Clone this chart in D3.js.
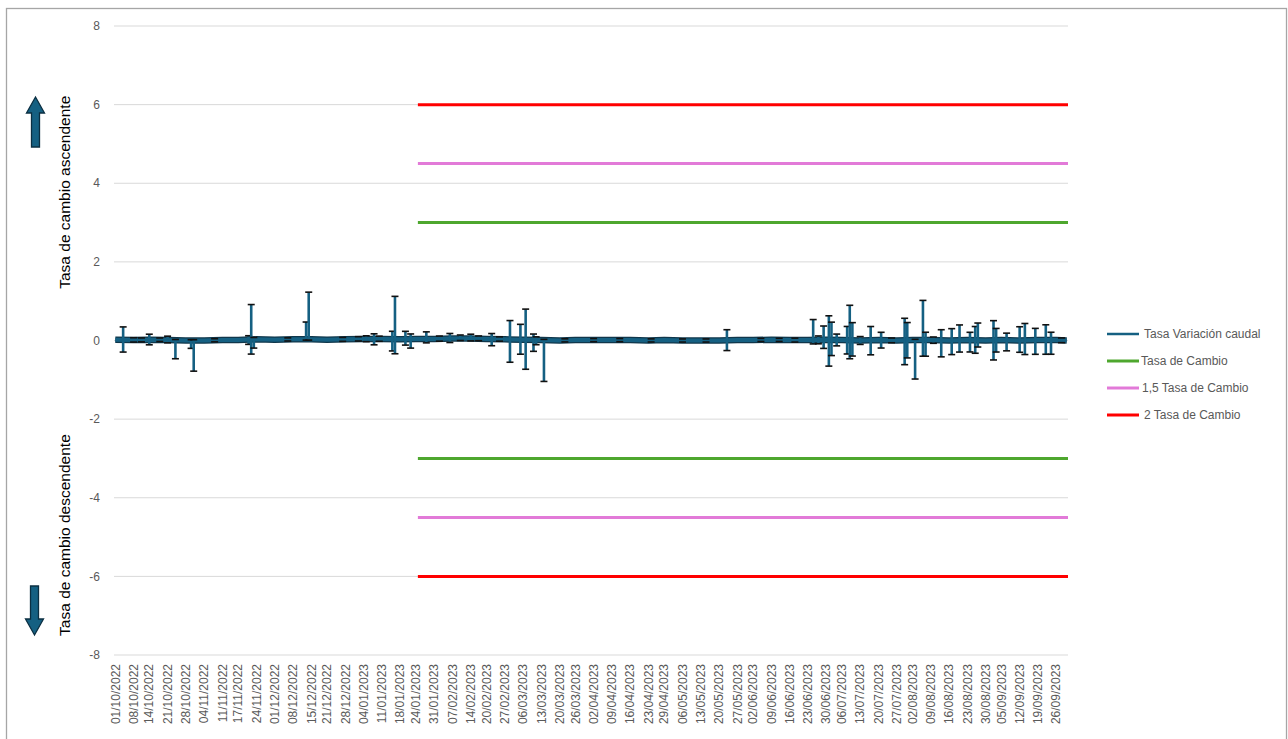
<!DOCTYPE html>
<html>
<head>
<meta charset="utf-8">
<script src="https://cdn.jsdelivr.net/npm/d3@7"></script>
<style>
  html, body { margin: 0; padding: 0; background: #fff; }
  svg { display: block; font-family: "Liberation Sans", Arial, sans-serif; }
</style>
</head>
<body>
<svg id="chart" width="1288" height="739"></svg>
<script>
// ---------------- DATA ----------------
const tickLabels = [
  "01/10/2022","08/10/2022","14/10/2022","21/10/2022","28/10/2022","04/11/2022","11/11/2022","17/11/2022",
  "24/11/2022","01/12/2022","08/12/2022","15/12/2022","21/12/2022","28/12/2022","04/01/2023","11/01/2023",
  "18/01/2023","24/01/2023","31/01/2023","07/02/2023","14/02/2023","20/02/2023","27/02/2023","06/03/2023",
  "13/03/2023","20/03/2023","26/03/2023","02/04/2023","09/04/2023","16/04/2023","23/04/2023","29/04/2023",
  "06/05/2023","13/05/2023","20/05/2023","27/05/2023","02/06/2023","09/06/2023","16/06/2023","23/06/2023",
  "30/06/2023","06/07/2023","13/07/2023","20/07/2023","27/07/2023","02/08/2023","09/08/2023","16/08/2023",
  "23/08/2023","30/08/2023","05/09/2023","12/09/2023","19/09/2023","26/09/2023"
];
const dateStart = "01/10/2022";
const dateEnd = "30/09/2023";
const yTicks = [-8, -6, -4, -2, 0, 2, 4, 6, 8];

// baseline of "Tasa Variación caudal"
const flowDates = [
  "01/10/2022","08/10/2022","14/10/2022","21/10/2022","28/10/2022","04/11/2022","11/11/2022","17/11/2022",
  "24/11/2022","01/12/2022","08/12/2022","15/12/2022","21/12/2022","28/12/2022","04/01/2023","11/01/2023",
  "18/01/2023","24/01/2023","31/01/2023","07/02/2023","14/02/2023","20/02/2023","27/02/2023","06/03/2023",
  "13/03/2023","20/03/2023","26/03/2023","02/04/2023","09/04/2023","16/04/2023","23/04/2023","29/04/2023",
  "06/05/2023","13/05/2023","20/05/2023","27/05/2023","02/06/2023","09/06/2023","16/06/2023","23/06/2023",
  "30/06/2023","06/07/2023","13/07/2023","20/07/2023","27/07/2023","02/08/2023","09/08/2023","16/08/2023",
  "23/08/2023","30/08/2023","05/09/2023","12/09/2023","19/09/2023","26/09/2023","30/09/2023"
];
const flowValues = [
  0.02, 0.01, 0.02, 0.01, 0.00, 0.00, 0.01, 0.01,
  0.03, 0.02, 0.03, 0.03, 0.02, 0.03, 0.04, 0.04,
  0.03, 0.04, 0.04, 0.05, 0.05, 0.04, 0.03, 0.02,
  0.01, 0.00, 0.01, 0.01, 0.01, 0.01, 0.00, 0.01,
  0.00, 0.00, 0.00, 0.01, 0.01, 0.02, 0.01, 0.01,
  0.02, 0.01, 0.00, 0.01, 0.00, 0.01, 0.01, 0.00,
  0.01, 0.00, 0.01, 0.00, 0.01, 0.01, 0.00
];

// error bars of "Tasa Variación caudal"
const errDates = [
  "04/10/2022","08/10/2022","11/10/2022","14/10/2022","18/10/2022","21/10/2022","24/10/2022","30/10/2022","31/10/2022",
  "08/11/2022","21/11/2022","22/11/2022","23/11/2022","06/12/2022","13/12/2022","14/12/2022","27/12/2022",
  "02/01/2023","05/01/2023","08/01/2023","10/01/2023","15/01/2023","16/01/2023","20/01/2023","22/01/2023",
  "28/01/2023","02/02/2023","06/02/2023","10/02/2023","14/02/2023","17/02/2023","22/02/2023","25/02/2023",
  "01/03/2023","05/03/2023","07/03/2023","10/03/2023","11/03/2023","14/03/2023","22/03/2023","02/04/2023",
  "12/04/2023","24/04/2023","06/05/2023","15/05/2023","23/05/2023","05/06/2023","12/06/2023","18/06/2023",
  "25/06/2023","27/06/2023","29/06/2023","01/07/2023","02/07/2023","04/07/2023","08/07/2023","09/07/2023",
  "10/07/2023","13/07/2023","17/07/2023","21/07/2023","25/07/2023","30/07/2023","31/07/2023","03/08/2023",
  "06/08/2023","07/08/2023","10/08/2023","13/08/2023","17/08/2023","20/08/2023","24/08/2023","26/08/2023",
  "27/08/2023","02/09/2023","03/09/2023","07/09/2023","12/09/2023","14/09/2023","18/09/2023","22/09/2023",
  "24/09/2023","28/09/2023"
];
const errUp = [
  0.33, 0.06, 0.05, 0.14, 0.05, 0.10, 0.02, 0.02, 0.02,
  0.04, 0.10, 0.89, 0.05, 0.04, 0.44, 1.20, 0.05,
  0.06, 0.08, 0.13, 0.07, 0.20, 1.09, 0.20, 0.13,
  0.18, 0.07, 0.13, 0.09, 0.11, 0.07, 0.14, 0.06,
  0.48, 0.39, 0.78, 0.15, 0.08, 0.02, 0.04, 0.04,
  0.04, 0.04, 0.04, 0.04, 0.27, 0.04, 0.04, 0.05,
  0.52, 0.10, 0.35, 0.61, 0.45, 0.15, 0.35, 0.89,
  0.45, 0.10, 0.35, 0.20, 0.06, 0.56, 0.45, 0.02,
  1.01, 0.20, 0.08, 0.27, 0.30, 0.39, 0.20, 0.35,
  0.44, 0.50, 0.30, 0.18, 0.35, 0.43, 0.30, 0.39,
  0.20, 0.06
];
const errDown = [
  0.31, 0.05, 0.05, 0.13, 0.04, 0.07, 0.47, 0.20, 0.78,
  0.04, 0.12, 0.37, 0.22, 0.04, 0.02, 0.02, 0.05,
  0.05, 0.07, 0.15, 0.06, 0.30, 0.37, 0.15, 0.23,
  0.10, 0.06, 0.10, 0.05, 0.06, 0.05, 0.17, 0.05,
  0.58, 0.37, 0.75, 0.29, 0.12, 1.05, 0.04, 0.04,
  0.04, 0.04, 0.04, 0.04, 0.26, 0.04, 0.04, 0.05,
  0.10, 0.10, 0.22, 0.67, 0.40, 0.15, 0.35, 0.47,
  0.40, 0.10, 0.37, 0.20, 0.06, 0.62, 0.45, 0.99,
  0.41, 0.41, 0.08, 0.42, 0.36, 0.30, 0.30, 0.33,
  0.17, 0.50, 0.30, 0.27, 0.30, 0.36, 0.36, 0.36,
  0.36, 0.06
];

// threshold lines
const thresholdStart = "24/01/2023";
const thresholdNames = ["Tasa de Cambio", "1,5 Tasa de Cambio", "2 Tasa de Cambio"];
const thresholdValues = [3, 4.5, 6];
const thresholdColors = ["#4ea72e", "#e27ad8", "#ff0000"];

const seriesName = "Tasa Variación caudal";
const seriesColor = "#156082";
const axisTitleUp = "Tasa de cambio ascendente";
const axisTitleDown = "Tasa de cambio descendente";

// ---------------- LAYOUT ----------------
const parse = d3.timeParse("%d/%m/%Y");
const svg = d3.select("#chart");
const plot = { left: 114, right: 1068, top: 26, bottom: 655 };

// chart border
svg.append("rect")
  .attr("x", 6.5).attr("y", 8.5).attr("width", 1280).attr("height", 745)
  .attr("fill", "none").attr("stroke", "#a6a6a6").attr("stroke-width", 1.3);

const x = d3.scaleTime()
  .domain([parse(dateStart), parse(dateEnd)])
  .range([plot.left + 1.3, plot.right - 1.3]);
const y = d3.scaleLinear().domain([-8, 8]).range([plot.bottom, plot.top]);

// grid
svg.append("g").selectAll("line").data(yTicks).join("line")
  .attr("x1", plot.left).attr("x2", plot.right)
  .attr("y1", d => y(d)).attr("y2", d => y(d))
  .attr("stroke", "#d9d9d9").attr("stroke-width", 1);

// y axis labels
svg.append("g").selectAll("text").data(yTicks).join("text")
  .attr("x", 100).attr("y", d => y(d)).attr("dy", "0.35em")
  .attr("text-anchor", "end").attr("font-size", 12).attr("fill", "#595959")
  .text(d => d);

// x axis labels
svg.append("g").selectAll("text").data(tickLabels).join("text")
  .attr("transform", d => `translate(${x(parse(d))},${plot.bottom + 9}) rotate(-90)`)
  .attr("dy", "0.35em").attr("text-anchor", "end")
  .attr("font-size", 12).attr("fill", "#595959")
  .text(d => d);

// axis titles
svg.append("text")
  .attr("transform", `translate(70,${(y(2) + y(6)) / 2 + 9}) rotate(-90)`)
  .attr("text-anchor", "middle").attr("font-size", 15.5).attr("fill", "#000")
  .text(axisTitleUp);
svg.append("text")
  .attr("transform", `translate(70,${(y(-4) + y(-6)) / 2 - 2}) rotate(-90)`)
  .attr("text-anchor", "middle").attr("font-size", 15.5).attr("fill", "#000")
  .text(axisTitleDown);

// arrows
const arrowUp = [[35.5, 97], [44.5, 113], [39.5, 113], [39.5, 147], [31.5, 147], [31.5, 113], [26.5, 113]];
const arrowDown = [[30.5, 586], [38.5, 586], [38.5, 619], [43.5, 619], [34.5, 635], [25.5, 619], [30.5, 619]];
[arrowUp, arrowDown].forEach(pts => {
  svg.append("polygon")
    .attr("points", pts.map(p => p.join(",")).join(" "))
    .attr("fill", seriesColor).attr("stroke", "#0b2f42").attr("stroke-width", 1.3);
});

// threshold lines
const tStart = parse(thresholdStart);
thresholdValues.forEach((v, i) => {
  [v, -v].forEach(val => {
    svg.append("line")
      .attr("x1", x(tStart) + 2).attr("x2", plot.right)
      .attr("y1", y(val)).attr("y2", y(val))
      .attr("stroke", thresholdColors[i]).attr("stroke-width", 3);
  });
});

// series line (dark outline + fill colour)
const flow = flowDates.map((d, i) => ({ date: parse(d), v: flowValues[i] }));
const lineGen = d3.line().x(d => x(d.date)).y(d => y(d.v));
svg.append("path").datum(flow)
  .attr("fill", "none").attr("stroke", "#10374b").attr("stroke-width", 6.5)
  .attr("stroke-linejoin", "round").attr("d", lineGen);
svg.append("path").datum(flow)
  .attr("fill", "none").attr("stroke", seriesColor).attr("stroke-width", 4)
  .attr("stroke-linejoin", "round").attr("d", lineGen);

// error bars (centered on the baseline value at the date)
const baseAt = d3.scaleTime().domain(flow.map(d => d.date)).range(flow.map(d => d.v));
const errs = errDates.map((d, i) => {
  const dt = parse(d);
  const b = baseAt(dt);
  return { date: dt, top: b + errUp[i], bot: b - errDown[i], b };
});
const eg = svg.append("g");
errs.forEach(e => {
  const cx = x(e.date);
  eg.append("line")
    .attr("x1", cx).attr("x2", cx).attr("y1", y(e.top)).attr("y2", y(e.bot))
    .attr("stroke", seriesColor).attr("stroke-width", 2.6);
  [e.top, e.bot].forEach(v => {
    eg.append("line")
      .attr("x1", cx - 3.5).attr("x2", cx + 3.5).attr("y1", y(v)).attr("y2", y(v))
      .attr("stroke", "#111").attr("stroke-width", 1.6);
  });
});

// legend
const legend = [
  { name: seriesName, color: seriesColor, w: 2.5, tx: 1144 },
  { name: thresholdNames[0], color: thresholdColors[0], w: 3, tx: 1141 },
  { name: thresholdNames[1], color: thresholdColors[1], w: 3, tx: 1142 },
  { name: thresholdNames[2], color: thresholdColors[2], w: 3, tx: 1144 }
];
const lg = svg.append("g");
legend.forEach((d, i) => {
  const ly = 334 + i * 27;
  lg.append("line").attr("x1", 1107).attr("x2", 1139).attr("y1", ly).attr("y2", ly)
    .attr("stroke", d.color).attr("stroke-width", d.w);
  lg.append("text").attr("x", d.tx).attr("y", ly).attr("dy", "0.35em")
    .attr("font-size", 12).attr("fill", "#595959").text(d.name);
});
</script>
</body>
</html>
